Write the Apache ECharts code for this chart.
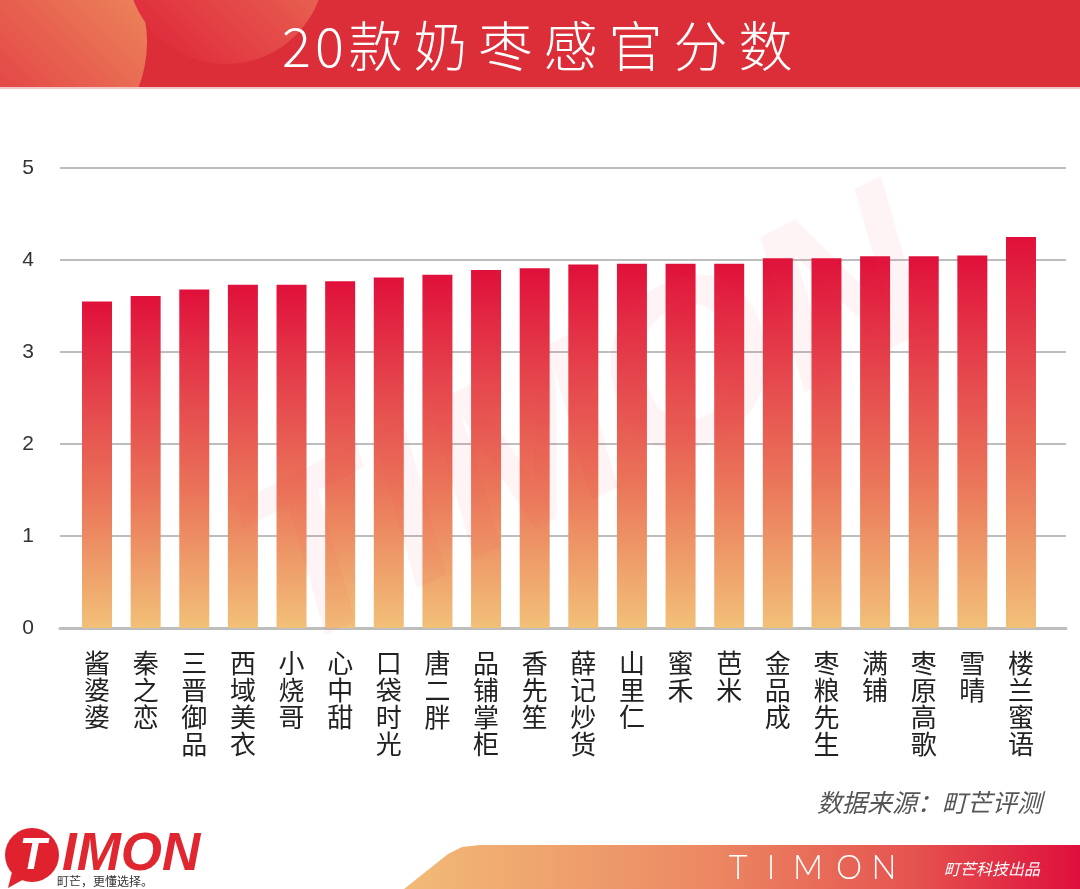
<!DOCTYPE html>
<html>
<head>
<meta charset="utf-8">
<script src="https://cdn.jsdelivr.net/npm/echarts@6/dist/echarts.min.js"></script>
<style>
html,body{margin:0;padding:0;background:#fff;}
#main{width:1080px;height:889px;}
</style>
</head>
<body>
<div id="main"></div>
<script>
var categories = ['酱婆婆','秦之恋','三晋御品','西域美衣','小烧哥','心中甜','口袋时光','唐二胖','品铺掌柜','香先笙','薛记炒货','山里仁','蜜禾','芭米','金品成','枣粮先生','满铺','枣原高歌','雪晴','楼兰蜜语'];
var scores = [3.55,3.61,3.68,3.73,3.73,3.77,3.81,3.84,3.89,3.91,3.95,3.96,3.96,3.96,4.02,4.02,4.04,4.04,4.05,4.25];
var yTicks = [0,1,2,3,4,5];
var titleText = '20款奶枣感官分数';
var sourceText = '数据来源：町芒评测';
var brandText = 'TIMON';

var CJK = '"Noto Sans CJK SC","Noto Sans",sans-serif';
var LAT = '"Liberation Sans",Arial,sans-serif';
var chart = echarts.init(document.getElementById('main'), null, {renderer:'canvas'});

// spaced title characters
var titleEls = [];
var tx = 280;
titleText.split('').forEach(function (ch) {
  var w = /[0-9]/.test(ch) ? 33 : 65;
  titleEls.push({type: 'text', z: 10, x: tx + w / 2 - (/[0-9]/.test(ch) ? 0 : 3), y: 46,
    style: {text: ch, fill: '#ffffff', fontSize: 54, fontWeight: 300, fontFamily: CJK, align: 'center', verticalAlign: 'middle'}});
  tx += w;
});
// spaced footer brand
var brandEls = [];
var bxs = [738, 771, 808, 849, 884];
brandText.split('').forEach(function (ch, i) {
  brandEls.push({type: 'text', z: 10, x: bxs[i], y: 868,
    style: {text: ch, fill: '#ffffff', fontSize: 33, fontWeight: 300, fontFamily: 'Lato,Roboto,' + LAT, align: 'center', verticalAlign: 'middle'}});
});

var option = {
  backgroundColor: '#ffffff',
  animation: false,
  grid: [
    {left: 60, right: 14, top: 168, bottom: 261},
    {left: 72.7, right: 34.7, top: 168, bottom: 261}
  ],
  xAxis: [
    {type: 'category', gridIndex: 0, data: [''], axisLine: {show: true, lineStyle: {color: '#bdbdbd', width: 3}},
     axisTick: {show: false}, axisLabel: {show: false}},
    {type: 'category', gridIndex: 1, data: categories, axisLine: {show: false}, axisTick: {show: false},
     axisLabel: {interval: 0, margin: 22, fontSize: 26, lineHeight: 27, color: '#222', fontFamily: CJK,
       formatter: function (v) { return v.split('').join('\n'); }}}
  ],
  yAxis: [
    {type: 'value', gridIndex: 0, min: yTicks[0], max: yTicks[yTicks.length - 1], interval: 1,
     axisLine: {show: false}, axisTick: {show: false},
     axisLabel: {margin: 26, fontSize: 21, color: '#333', fontFamily: LAT},
     splitLine: {show: true, lineStyle: {color: '#bdbdbd', width: 2}}},
    {type: 'value', gridIndex: 1, min: yTicks[0], max: yTicks[yTicks.length - 1], interval: 1,
     axisLine: {show: false}, axisTick: {show: false}, axisLabel: {show: false}, splitLine: {show: false}}
  ],
  series: [{
    type: 'bar', xAxisIndex: 1, yAxisIndex: 1, data: scores, barWidth: 30, z: 3,
    itemStyle: {
      color: new echarts.graphic.LinearGradient(0, 0, 0, 1, [
        {offset: 0, color: '#e0103a'},
        {offset: 0.3, color: '#e5444c'},
        {offset: 0.6, color: '#ea7459'},
        {offset: 1, color: '#f2c078'}
      ])
    }
  }],
  graphic: [
    // header band
    {type: 'rect', z: -10, shape: {x: 0, y: 0, width: 1080, height: 87}, style: {fill: '#dc2e38'}},
    {type: 'circle', z: -9, shape: {cx: 20, cy: 42, r: 127},
     style: {fill: new echarts.graphic.LinearGradient(1, 0, 0, 1, [
       {offset: 0, color: '#ee9a62'}, {offset: 0.5, color: '#e6584c'}, {offset: 1, color: '#dd1a3a'}])}},
    {type: 'circle', z: -8, shape: {cx: 226, cy: -35, r: 99},
     style: {fill: new echarts.graphic.LinearGradient(1, 0, 0, 1, [
       {offset: 0, color: '#ec8a5c'}, {offset: 0.5, color: '#e5504a'}, {offset: 1, color: '#de2038'}])}},
    {type: 'rect', z: -7, shape: {x: 0, y: 87, width: 1080, height: 80}, style: {fill: '#ffffff'}},
    {type: 'rect', z: -7, shape: {x: 0, y: 166, width: 58, height: 8}, style: {fill: '#ffffff'}},
    {type: 'rect', z: -6, shape: {x: 0, y: 87, width: 1080, height: 2}, style: {fill: '#f2c6c6'}},
    // watermark
    {type: 'text', z: 5, x: 590, y: 430, rotation: 0.47,
     style: {text: 'TIMON', fill: 'rgba(236,70,90,0.06)', fontSize: 230, fontWeight: 'bold', fontStyle: 'italic',
       fontFamily: LAT, align: 'center', verticalAlign: 'middle'}},
    // source
    {type: 'text', z: 10, right: 38, top: 790,
     style: {text: sourceText, fill: '#555555', fontSize: 25, fontStyle: 'italic', fontFamily: CJK}},
    // footer banner
    {type: 'polygon', z: 1, shape: {points: [[404, 889], [448, 854], [462, 847], [480, 845], [1080, 845], [1080, 889]]},
     style: {fill: new echarts.graphic.LinearGradient(0, 0, 1, 0, [
       {offset: 0, color: '#f1bb77'}, {offset: 0.45, color: '#ec8863'}, {offset: 0.75, color: '#e5544f'}, {offset: 1, color: '#df0f3c'}])}},
    {type: 'text', z: 10, x: 944, y: 869,
     style: {text: '町芒科技出品', fill: '#ffffff', fontSize: 16, fontStyle: 'italic', verticalAlign: 'middle', fontFamily: CJK}},
    // logo
    {type: 'polygon', z: 10, shape: {points: [[12, 872], [8, 888], [26, 878]]}, style: {fill: '#e3232f'}},
    {type: 'circle', z: 10, shape: {cx: 32, cy: 855, r: 27}, style: {fill: '#e0222e'}},
    {type: 'text', z: 11, x: 33, y: 857,
     style: {text: 'T', fill: '#ffffff', fontSize: 44, fontWeight: 'bold', fontStyle: 'italic', align: 'center', verticalAlign: 'middle',
       fontFamily: LAT}},
    {type: 'text', z: 10, x: 62, y: 855,
     style: {text: 'IMON', fill: '#e0262e', fontSize: 53, fontWeight: 'bold', fontStyle: 'italic', verticalAlign: 'middle',
       fontFamily: LAT}},
    {type: 'text', z: 10, x: 57, y: 881,
     style: {text: '町芒，更懂选择。', fill: '#333333', fontSize: 12, verticalAlign: 'middle', fontFamily: CJK}}
  ].concat(titleEls, brandEls)
};
chart.setOption(option);
</script>
</body>
</html>
